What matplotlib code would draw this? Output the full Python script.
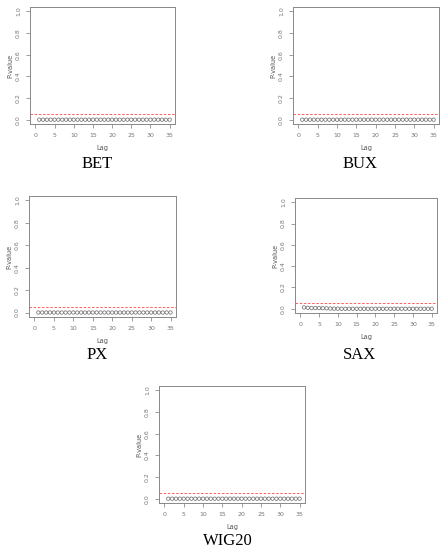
import matplotlib
matplotlib.use("Agg")
import matplotlib.pyplot as plt
import numpy as np

W, H = 447, 550
lags = list(range(1, 36))
names = ["BET", "BUX", "PX", "SAX", "WIG20"]
pv_bet = [0.0] * 35
pv_bux = [0.0] * 35
pv_px = [0.0] * 35
pv_sax = [0.012, 0.009, 0.006, 0.007, 0.006, 0.005, 0.004, 0.002, 0.001, 0.001] + [0.0] * 25
pv_wig = [0.0] * 35
series = [pv_bet, pv_bux, pv_px, pv_sax, pv_wig]
threshold = 0.05
xticks = [0, 5, 10, 15, 20, 25, 30, 35]
yticks = [0.0, 0.2, 0.4, 0.6, 0.8, 1.0]

# axes boxes in pixels: left, right, top, bottom ; title centre x, y
boxes = [
    (30, 175, 7, 124, 97, 164),
    (293, 439, 7, 124, 360, 164),
    (29, 176, 196, 317, 97, 355),
    (295, 437, 198, 313, 360, 355),
    (159, 305, 386, 503, 228, 541),
]

fig = plt.figure(figsize=(W / 100, H / 100), dpi=100)
fig.patch.set_facecolor("white")
gray = "#777777"
for name, vals, (l, r, t, b, tx, ty) in zip(names, series, boxes):
    ax = fig.add_axes([l / W, 1 - b / H, (r - l) / W, (b - t) / H])
    ax.scatter(lags, vals, s=6, facecolors="none", edgecolors="#666666", linewidths=0.5, zorder=3)
    ax.axhline(threshold, color="#ff4444", linestyle=(0, (3, 2)), linewidth=0.6)
    ax.set_xlim(-1.4, 36.4)
    ax.set_ylim(-0.04, 1.04)
    ax.set_xticks(xticks)
    ax.set_yticks(yticks)
    ax.set_yticklabels([f"{v:.1f}" for v in yticks], rotation=90, va="center")
    ax.tick_params(labelsize=4.5, colors=gray, length=3, width=0.5, pad=3.5)
    for s in ax.spines.values():
        s.set_color("#888888")
        s.set_linewidth(0.7)
    ax.set_xlabel("Lag", fontsize=4.8, color="#555555", labelpad=5)
    ax.set_ylabel("P-value", fontsize=4.8, color="#555555", labelpad=2)
    fig.text(tx / W, 1 - ty / H, name, ha="center", va="center",
             fontsize=12, family="Liberation Serif", color="black")

fig.savefig("out.png", dpi=100, facecolor="white")
